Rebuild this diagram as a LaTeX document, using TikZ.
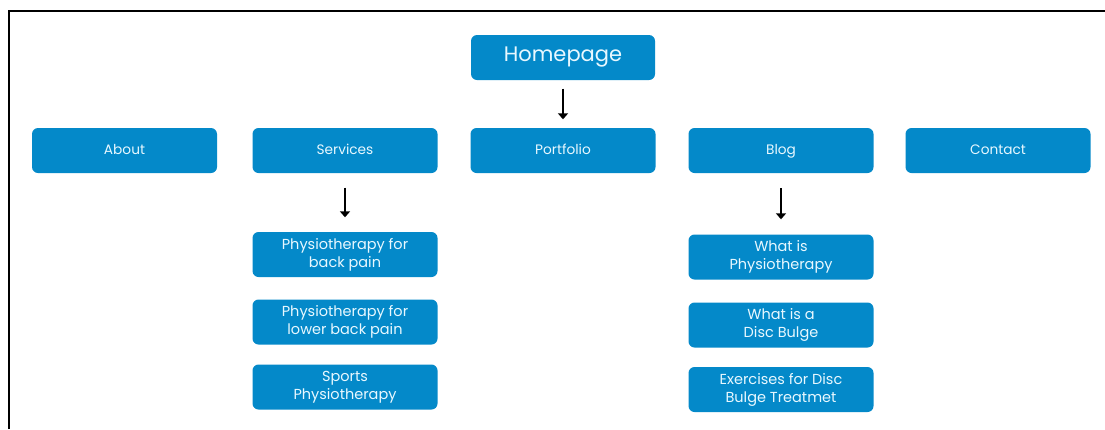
\documentclass[tikz,border=0pt]{standalone}
\usepackage{fontspec}
\setmainfont{Poppins}
\usetikzlibrary{arrows.meta}
\definecolor{boxblue}{RGB}{4,137,201}
\definecolor{boxtext}{RGB}{232,248,255}
\begin{document}
\begin{tikzpicture}
[x=1pt,y=-1pt,
  boxdecorate/.style={shape=rectangle,rounded corners=6pt,fill=boxblue,text=boxtext,%
    minimum width=185pt,minimum height=45pt,inner sep=0pt,align=center,%
    font=\fontsize{14.5}{18}\selectfont},%
  arrowdecorate/.style={-{Triangle[width=10pt,length=6pt]},line width=2.2pt}]
\useasboundingbox (0,0) rectangle (1105,429);
%% frame
\draw[line width=1.6pt] (9,429) -- (9,11) -- (1105,11);
%% nodes or pages
\node (home) at (563,57.5) [boxdecorate,minimum width=184pt,font=\fontsize{21}{24}\selectfont] {Homepage};
\foreach \nodename/\x/\y/\nodetext in {about/124.5/150.5/About, services/345/150.5/Services,
  portfolio/563/150.5/Portfolio, blog/781/150.5/Blog, contact/998/150.5/Contact} {
  \node (\nodename) at (\x,\y) [boxdecorate,text height=10pt,text depth=3pt,%
    font=\fontsize{13.7}{17}\selectfont] {\nodetext};
}
\foreach \nodename/\x/\y/\nodetext in {srv1/345/254.5/{Physiotherapy for\\back pain},
  srv2/345/322/{Physiotherapy for\\lower back pain}, srv3/345/387/{Sports\\Physiotherapy},
  blg1/781/257/{What is\\Physiotherapy}, blg2/781/325/{What is a\\Disc Bulge},
  blg3/781/389.5/{Exercises for Disc\\Bulge Treatmet}} {
  \node (\nodename) at (\x,\y) [boxdecorate] {\nodetext};
}
%% arrows
\path
\foreach \startnode/\endnode/\gap in {home/portfolio/8.5, services/srv1/14.5, blog/blg1/15} {
  (\startnode) edge[arrowdecorate,shorten <=\gap pt,shorten >=\gap pt] (\endnode)
};
\end{tikzpicture}
\end{document}
